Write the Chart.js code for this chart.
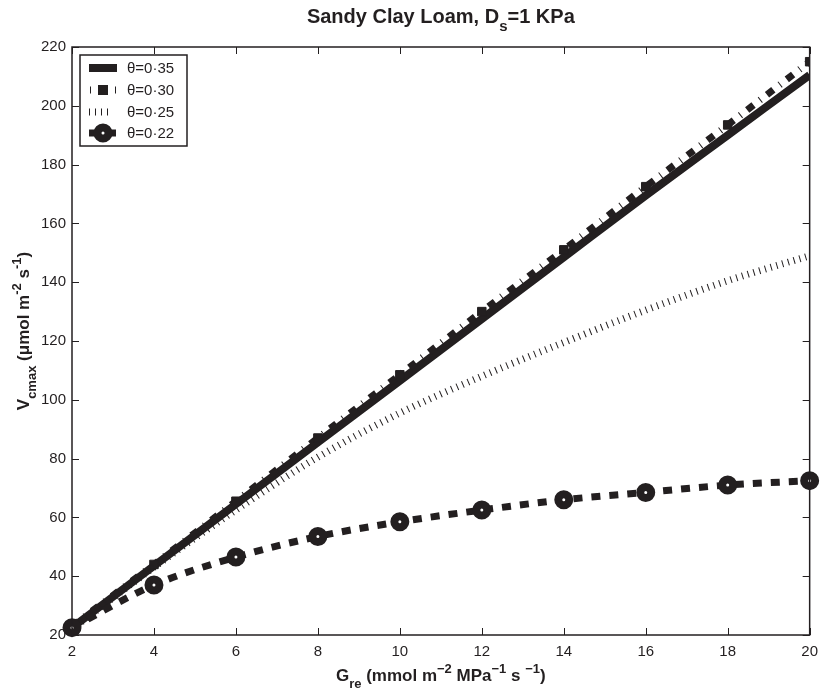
<!DOCTYPE html>
<html>
<head>
<meta charset="utf-8">
<script src="https://cdn.jsdelivr.net/npm/chart.js@4.4.0/dist/chart.umd.min.js"></script>
<style>
    html, body { margin: 0; padding: 0; background: #fff; }
</style>
</head>
<body>
<canvas id="chart-vcmax" width="826" height="692"></canvas>
<script>
// G_re values (x) and Vcmax for each soil moisture level
const gre = [2, 4, 6, 8, 10, 12, 14, 16, 18, 20];
const theta35 = [22.5, 43.5, 64.5, 85.5, 106.5, 127.5, 148.5, 169.5, 190, 210.5];
const theta30 = [23, 44, 65.5, 87, 108.5, 130, 151, 172.5, 193.5, 215];
const theta25 = [22, 43, 62.5, 80.5, 95.5, 108, 119.5, 130.5, 140.5, 149];
const theta22 = [22.5, 37, 46.5, 53.5, 58.5, 62.5, 66, 68.5, 71, 72.5];
const seriesLabels = ['θ=0·35', 'θ=0·30', 'θ=0·25', 'θ=0·22'];
const xTicks = [2, 4, 6, 8, 10, 12, 14, 16, 18, 20];
const yTicks = [20, 40, 60, 80, 100, 120, 140, 160, 180, 200, 220];

const ink = '#231f20';
const fontFamily = "'Liberation Sans', Arial, Helvetica, sans-serif";

const toPoints = (ys) => gre.map((x, i) => ({x: x, y: ys[i]}));

// text with sub/superscripts, parts: [text, 'n'|'sub'|'sup']
function richText(ctx, parts, size, bold, cx, cy) {
    const weight = bold ? 'bold ' : '';
    const small = Math.round(size * 0.75);
    let total = 0;
    parts.forEach((p) => {
        ctx.font = weight + (p[1] === 'n' ? size : small) + 'px ' + fontFamily;
        total += ctx.measureText(p[0]).width;
    });
    let x = cx - total / 2;
    ctx.textAlign = 'left';
    ctx.textBaseline = 'alphabetic';
    parts.forEach((p) => {
        ctx.font = weight + (p[1] === 'n' ? size : small) + 'px ' + fontFamily;
        let dy = 0;
        if (p[1] === 'sub') dy = size * 0.4;
        if (p[1] === 'sup') dy = -size * 0.45;
        ctx.fillText(p[0], x, cy + dy);
        x += ctx.measureText(p[0]).width;
    });
}

const framePlugin = {
    id: 'frame',
    afterDatasetsDraw(chart) {
        const ctx = chart.ctx;
        const a = chart.chartArea;
        const xs = chart.scales.x;
        const ys = chart.scales.y;
        ctx.save();
        ctx.strokeStyle = ink;
        ctx.lineWidth = 1.5;
        ctx.setLineDash([]);
        ctx.strokeRect(a.left, a.top, a.right - a.left, a.bottom - a.top);
        ctx.lineWidth = 1;
        ctx.beginPath();
        xTicks.forEach((t) => {
            const px = Math.round(xs.getPixelForValue(t)) + 0.5;
            ctx.moveTo(px, a.bottom); ctx.lineTo(px, a.bottom - 7);
            ctx.moveTo(px, a.top); ctx.lineTo(px, a.top + 7);
        });
        yTicks.forEach((t) => {
            const py = Math.round(ys.getPixelForValue(t)) + 0.5;
            ctx.moveTo(a.left, py); ctx.lineTo(a.left + 7, py);
            ctx.moveTo(a.right, py); ctx.lineTo(a.right - 7, py);
        });
        ctx.stroke();
        ctx.restore();
    },
};

const labelsPlugin = {
    id: 'labels',
    afterDraw(chart) {
        const ctx = chart.ctx;
        const a = chart.chartArea;
        const mid = (a.left + a.right) / 2;
        ctx.save();
        ctx.fillStyle = ink;
        richText(ctx, [['Sandy Clay Loam, D', 'n'], ['s', 'sub'], ['=1 KPa', 'n']], 20, true, mid, 23);
        richText(ctx, [['G', 'n'], ['re', 'sub'], [' (mmol m', 'n'], ['−2', 'sup'], [' MPa', 'n'], ['−1', 'sup'],
            [' s ', 'n'], ['−1', 'sup'], [')', 'n']], 17, true, mid, 681);
        ctx.translate(29, (a.top + a.bottom) / 2 - 10);
        ctx.rotate(-Math.PI / 2);
        richText(ctx, [['V', 'n'], ['cmax', 'sub'], [' (μmol m', 'n'], ['-2', 'sup'], [' s', 'n'], ['-1', 'sup'], [')', 'n']],
            17, true, 0, 0);
        ctx.restore();
    },
};

const legendPlugin = {
    id: 'boxLegend',
    afterDatasetsDraw(chart) {
        const ctx = chart.ctx;
        const a = chart.chartArea;
        const bx = a.left + 8;
        const by = a.top + 8;
        ctx.save();
        ctx.fillStyle = '#fff';
        ctx.fillRect(bx, by, 107, 91);
        ctx.strokeStyle = ink;
        ctx.lineWidth = 1.5;
        ctx.strokeRect(bx, by, 107, 91);
        const rows = [13, 35, 57, 78];
        chart.data.datasets.forEach((ds, i) => {
            const y = by + rows[i];
            const x0 = bx + 9;
            const x1 = bx + 37;
            ctx.strokeStyle = ink;
            ctx.lineWidth = ds.borderWidth;
            ctx.lineCap = 'butt';
            ctx.setLineDash(ds.borderDash || []);
            ctx.lineDashOffset = i === 1 ? 15 : 0;
            ctx.beginPath();
            ctx.moveTo(x0, y);
            ctx.lineTo(i === 2 ? x0 + 23 : x1, y);
            ctx.stroke();
            ctx.setLineDash([]);
            const cx = (x0 + x1) / 2;
            if (ds.pointStyle === 'rect' && ds.pointRadius > 0) {
                ctx.fillStyle = ink;
                ctx.fillRect(cx - 5, y - 5, 10, 10);
            }
            if (ds.pointStyle === 'circle' && ds.pointRadius > 0) {
                ctx.fillStyle = '#fff';
                ctx.lineWidth = ds.pointBorderWidth;
                ctx.beginPath();
                ctx.arc(cx, y, ds.pointRadius, 0, Math.PI * 2);
                ctx.fill();
                ctx.stroke();
            }
            ctx.fillStyle = ink;
            ctx.font = '15px ' + fontFamily;
            ctx.textAlign = 'left';
            ctx.textBaseline = 'middle';
            ctx.fillText(ds.label, bx + 47, y + 1);
        });
        ctx.restore();
    },
};

new Chart(document.getElementById('chart-vcmax'), {
    type: 'line',
    data: {
        datasets: [{
            label: seriesLabels[0],
            data: toPoints(theta35),
            borderColor: ink,
            borderWidth: 8,
            pointRadius: 0,
            order: 4,
        }, {
            label: seriesLabels[1],
            data: toPoints(theta30),
            borderColor: ink,
            borderWidth: 7,
            borderDash: [8, 8, 1, 8],
            pointStyle: 'rect',
            pointRadius: 6,
            pointBorderWidth: 1,
            pointBackgroundColor: ink,
            pointBorderColor: ink,
            order: 3,
        }, {
            label: seriesLabels[2],
            data: toPoints(theta25),
            borderColor: ink,
            borderWidth: 7,
            borderDash: [1, 5],
            pointRadius: 0,
            order: 2,
        }, {
            label: seriesLabels[3],
            data: toPoints(theta22),
            borderColor: ink,
            borderWidth: 7,
            borderDash: [9, 9],
            pointStyle: 'circle',
            pointRadius: 5.5,
            pointBorderWidth: 8,
            pointBackgroundColor: '#fff',
            pointBorderColor: ink,
            clip: false,
            order: 1,
        }],
    },
    options: {
        responsive: false,
        animation: false,
        devicePixelRatio: 1,
        layout: {
            padding: {top: 47, right: 8, left: 0, bottom: 0},
        },
        elements: {
            line: {cubicInterpolationMode: 'monotone', fill: false},
        },
        plugins: {
            legend: {display: false},
            title: {display: false},
            tooltip: {enabled: false},
        },
        scales: {
            x: {
                type: 'linear',
                min: 2,
                max: 20,
                grid: {display: false, drawTicks: false},
                border: {display: false},
                ticks: {stepSize: 2, padding: 8, color: ink, font: {size: 15, family: fontFamily}},
                afterFit: (scale) => { scale.height = 57; },
            },
            y: {
                min: 20,
                max: 220,
                grid: {display: false, drawTicks: false},
                border: {display: false},
                ticks: {stepSize: 20, padding: 6, color: ink, font: {size: 15, family: fontFamily}},
                afterFit: (scale) => { scale.width = 72; },
            },
        },
    },
    plugins: [framePlugin, legendPlugin, labelsPlugin],
});
</script>
</body>
</html>
